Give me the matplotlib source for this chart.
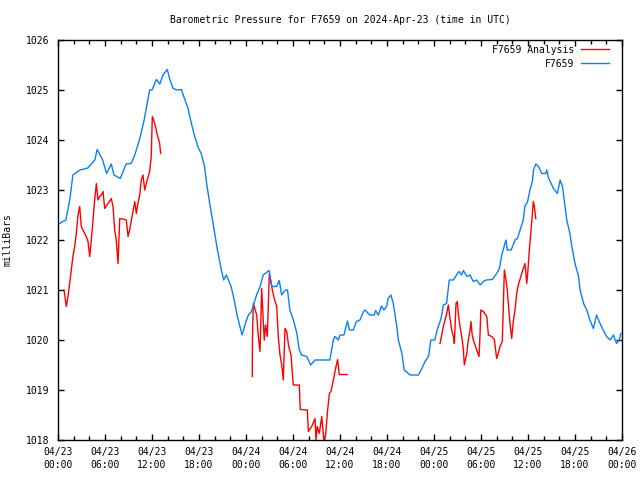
import matplotlib.pyplot as plt
from matplotlib.ticker import MultipleLocator

plt.rcParams['font.family'] = ['DejaVu Sans Mono']

# hours since 2024-04-23 00:00 UTC
station_hours = [0.22, 0.5, 1.0, 1.5, 1.9, 2.8, 3.8, 4.7, 5.0, 5.7, 6.2, 6.8, 7.15, 7.95, 8.7,
                 9.35, 9.8, 10.4, 11.0, 11.7, 12.0, 12.55, 13.0, 13.4, 13.95, 14.3, 14.7, 15.2,
                 15.75, 16.1, 16.6, 17.0, 17.45, 17.9, 18.3, 18.7, 19.0, 19.4, 19.8, 20.3, 20.85,
                 21.15, 21.5, 22.1, 22.5, 22.85, 23.5, 24.0, 24.3, 24.7, 25.35, 25.8, 26.2, 26.95,
                 27.3, 27.9, 28.25, 28.55, 29.0, 29.3, 29.6, 30.05, 30.5, 30.8, 31.1, 31.75, 32.25,
                 32.8, 34.7, 35.15, 35.35, 35.8, 36.0, 36.5, 36.95, 37.2, 37.7, 38.1, 38.55, 39.0,
                 39.2, 39.8, 40.35, 40.55, 40.9, 41.3, 41.6, 41.95, 42.15, 42.5, 42.8, 43.25, 43.45,
                 43.9, 44.2, 44.95, 45.6, 46.0, 46.45, 46.85, 47.3, 47.6, 48.1, 48.4, 48.9, 49.2,
                 49.6, 49.95, 50.45, 51.2, 51.5, 51.75, 52.2, 52.6, 53.0, 53.45, 53.9, 54.3, 54.65,
                 55.45, 56.0, 56.35, 56.65, 57.05, 57.2, 57.35, 57.85, 58.35, 58.65, 59.0, 59.4,
                 59.6, 59.95, 60.25, 60.55, 60.7, 61.0, 61.35, 61.75, 62.25, 62.4, 62.6, 63.25,
                 63.75, 64.1, 64.4, 64.6, 64.95, 65.35, 65.6, 66.0, 66.45, 66.65, 67.1, 67.5, 67.9,
                 68.35, 68.75, 69.2, 69.6, 70.05, 70.5, 70.9, 71.3, 71.65, 71.85]
station_mb = [1022.33, 1022.36, 1022.4, 1022.8, 1023.3, 1023.4, 1023.44, 1023.6, 1023.81, 1023.6,
              1023.33, 1023.52, 1023.3, 1023.23, 1023.52, 1023.53, 1023.7, 1024.0, 1024.4, 1025.0,
              1025.0, 1025.21, 1025.12, 1025.3, 1025.41, 1025.2, 1025.03, 1025.0, 1025.01, 1024.85,
              1024.63, 1024.35, 1024.07, 1023.85, 1023.72, 1023.47, 1023.1, 1022.7, 1022.33, 1021.85,
              1021.4, 1021.2, 1021.3, 1021.07, 1020.8, 1020.5, 1020.1, 1020.37, 1020.5, 1020.57,
              1020.9, 1021.07, 1021.3, 1021.39, 1021.07, 1021.07, 1021.19, 1020.9, 1021.0, 1021.0,
              1020.6, 1020.4, 1020.13, 1019.8, 1019.7, 1019.67, 1019.5, 1019.6, 1019.6, 1020.0,
              1020.07, 1020.0, 1020.1, 1020.1, 1020.38, 1020.2, 1020.2, 1020.37, 1020.4, 1020.57,
              1020.6, 1020.5, 1020.5, 1020.59, 1020.5, 1020.68, 1020.6, 1020.67, 1020.83, 1020.9,
              1020.73, 1020.27, 1020.0, 1019.73, 1019.4, 1019.3, 1019.3, 1019.3, 1019.43, 1019.57,
              1019.67, 1020.0, 1020.0, 1020.2, 1020.43, 1020.7, 1020.73, 1021.2, 1021.2, 1021.37,
              1021.3, 1021.39, 1021.27, 1021.3, 1021.17, 1021.2, 1021.1, 1021.17, 1021.2, 1021.21,
              1021.33, 1021.43, 1021.7, 1021.93, 1022.0, 1021.8, 1021.8, 1022.0, 1022.03, 1022.2,
              1022.4, 1022.67, 1022.77, 1023.0, 1023.17, 1023.4, 1023.52, 1023.47, 1023.33, 1023.33,
              1023.4, 1023.25, 1023.03, 1022.93, 1023.2, 1023.07, 1022.83, 1022.4, 1022.13, 1021.87,
              1021.53, 1021.27, 1021.0, 1020.73, 1020.6, 1020.4, 1020.23, 1020.5, 1020.33, 1020.2,
              1020.07, 1020.0, 1020.1, 1019.93, 1020.0, 1020.13]

# analysis comes in three pieces with gaps between them
analysis_hours_1 = [0.77, 1.06, 1.28, 1.7, 1.9, 2.13, 2.34, 2.55, 2.77, 2.97, 3.19, 3.6, 3.83, 4.05,
                    4.25, 4.47, 4.68, 4.9, 5.1, 5.32, 5.53, 5.75, 5.96, 6.38, 6.8, 7.02, 7.24, 7.44,
                    7.66, 7.88, 8.3, 8.72, 8.94, 9.15, 9.45, 9.8, 10.0, 10.2, 10.43, 10.63, 10.85,
                    11.07, 11.27, 11.7, 11.9, 12.04, 12.35, 12.64, 12.98, 13.1]
analysis_mb_1 = [1021.0, 1020.67, 1020.87, 1021.4, 1021.67, 1021.87, 1022.13, 1022.5, 1022.67,
                 1022.27, 1022.2, 1022.07, 1021.97, 1021.67, 1022.0, 1022.4, 1022.8, 1023.13, 1022.8,
                 1022.87, 1022.9, 1022.97, 1022.63, 1022.73, 1022.83, 1022.67, 1022.2, 1022.0,
                 1021.53, 1022.43, 1022.42, 1022.4, 1022.07, 1022.2, 1022.47, 1022.77, 1022.53,
                 1022.73, 1022.9, 1023.2, 1023.3, 1023.0, 1023.13, 1023.37, 1023.67, 1024.47,
                 1024.33, 1024.13, 1023.93, 1023.73]

analysis_hours_2 = [24.8, 24.82, 24.93, 25.37, 25.57, 25.79, 26.0, 26.2, 26.33, 26.5, 26.72, 26.98,
                    27.13, 27.36, 27.61, 27.92, 28.12, 28.34, 28.56, 28.76, 28.98, 29.2, 29.45,
                    29.75, 29.92, 30.04, 30.8, 30.93, 31.83, 31.96, 32.39, 32.81, 32.94, 33.1, 33.36,
                    33.67, 33.96, 34.18, 34.38, 34.64, 34.85, 35.15, 35.49, 35.7, 35.9, 36.93]
analysis_mb_2 = [1019.27, 1020.0, 1020.73, 1020.5, 1020.07, 1019.77, 1021.03, 1020.4, 1020.0,
                 1020.3, 1020.07, 1021.33, 1021.2, 1021.0, 1020.83, 1020.67, 1020.07, 1019.7,
                 1019.5, 1019.2, 1020.23, 1020.17, 1019.87, 1019.7, 1019.33, 1019.1, 1019.1,
                 1018.61, 1018.6, 1018.17, 1018.27, 1018.43, 1018.0, 1018.27, 1018.13, 1018.47,
                 1017.95, 1018.13, 1018.53, 1018.93, 1018.97, 1019.2, 1019.47, 1019.61, 1019.31,
                 1019.31]

analysis_hours_3 = [48.77, 49.19, 49.62, 49.83, 50.04, 50.26, 50.47, 50.6, 50.81, 50.98, 51.1, 51.32,
                    51.54, 51.74, 51.87, 52.18, 52.38, 52.6, 52.72, 52.85, 53.02, 53.23, 53.45,
                    53.75, 53.88, 53.97, 54.3, 54.74, 54.94, 55.37, 55.7, 56.0, 56.2, 56.43, 56.72,
                    56.85, 56.98, 57.19, 57.36, 57.49, 57.7, 57.92, 58.12, 58.34, 58.56, 58.76,
                    59.2, 59.4, 59.62, 59.84, 59.96, 60.17, 60.35, 60.48, 60.68, 60.81, 60.99]
analysis_mb_3 = [1019.93, 1020.27, 1020.53, 1020.7, 1020.43, 1020.2, 1020.07, 1019.93, 1020.73,
                 1020.77, 1020.53, 1020.27, 1020.07, 1019.83, 1019.5, 1019.73, 1020.0, 1020.2,
                 1020.37, 1020.13, 1020.0, 1019.9, 1019.8, 1019.67, 1020.13, 1020.6, 1020.57,
                 1020.47, 1020.1, 1020.07, 1020.01, 1019.63, 1019.73, 1019.87, 1019.97, 1020.67,
                 1021.4, 1021.2, 1021.0, 1020.73, 1020.33, 1020.03, 1020.37, 1020.6, 1020.93,
                 1021.1, 1021.33, 1021.43, 1021.53, 1021.13, 1021.33, 1021.8, 1022.13, 1022.37,
                 1022.77, 1022.67, 1022.43]

tick_hours = [0, 6, 12, 18, 24, 30, 36, 42, 48, 54, 60, 66, 72]
tick_labels = ['04/23\n00:00', '04/23\n06:00', '04/23\n12:00', '04/23\n18:00',
               '04/24\n00:00', '04/24\n06:00', '04/24\n12:00', '04/24\n18:00',
               '04/25\n00:00', '04/25\n06:00', '04/25\n12:00', '04/25\n18:00',
               '04/26\n00:00']

red = '#ff0000'
blue = '#0a80f5'

fig = plt.figure(figsize=(6.4, 4.8), dpi=100)
ax = fig.add_axes([58 / 640, 40 / 480, 564 / 640, 400 / 480])

ax.plot(analysis_hours_1, analysis_mb_1, color=red, lw=1.0, label='F7659 Analysis')
ax.plot(analysis_hours_2, analysis_mb_2, color=red, lw=1.0)
ax.plot(analysis_hours_3, analysis_mb_3, color=red, lw=1.0)
ax.plot(station_hours, station_mb, color=blue, lw=1.0, label='F7659')

ax.set_xlim(0, 72)
ax.set_ylim(1018, 1026)
ax.set_xticks(tick_hours)
ax.set_xticklabels(tick_labels, linespacing=1.35)
ax.xaxis.set_minor_locator(MultipleLocator(2))
ax.yaxis.set_major_locator(MultipleLocator(1))

ax.tick_params(axis='both', which='both', direction='in', top=True, right=True,
               labelsize=7, width=1, color='black')
ax.tick_params(axis='both', which='major', length=4)
ax.tick_params(axis='x', which='major', pad=5)
ax.tick_params(axis='y', which='major', pad=6)
ax.tick_params(axis='both', which='minor', length=3)
for s in ax.spines.values():
    s.set_linewidth(1)

ax.set_ylabel('milliBars', fontsize=7, labelpad=10)
fig.text(340 / 640, 1 - 20 / 480, 'Barometric Pressure for F7659 on 2024-Apr-23 (time in UTC)',
         ha='center', va='center', fontsize=7)

ax.legend(loc='upper right', bbox_to_anchor=(1 - 6 / 564, 1 + 2 / 400), frameon=False,
          markerfirst=False, fontsize=7, handlelength=2.9, handletextpad=0.7,
          labelspacing=0.4, borderaxespad=0.3)

fig.savefig('out.png', dpi=100)
